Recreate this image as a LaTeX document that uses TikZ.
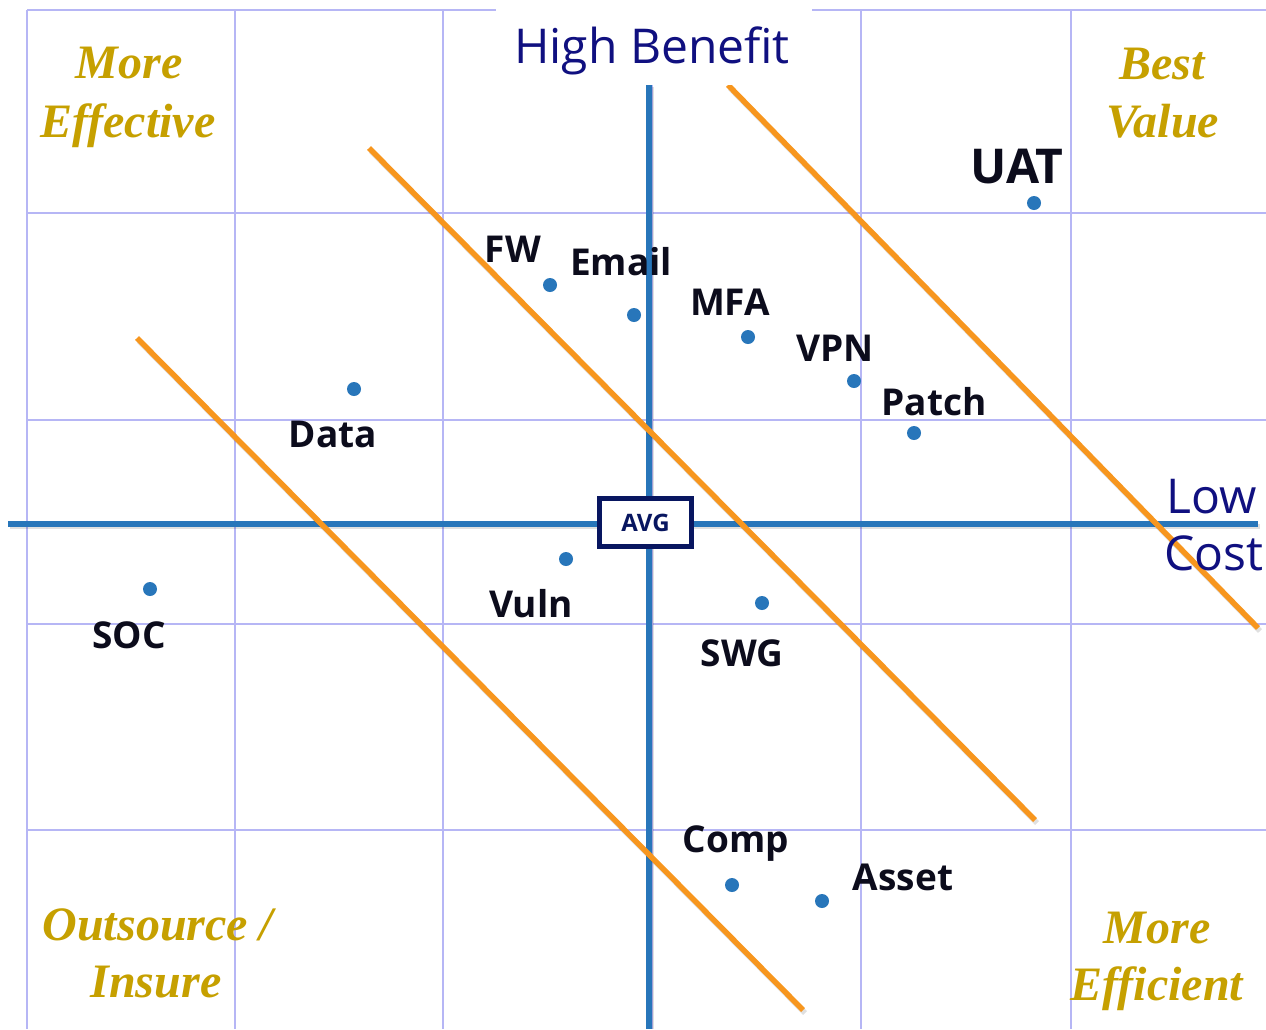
\documentclass[tikz,border=0pt]{standalone}
\usepackage{fontspec}
\setmainfont{Open Sans}
\newfontfamily\goldfont{Liberation Serif}
\definecolor{gridc}{RGB}{182,182,245}
\definecolor{axisblue}{RGB}{40,118,186}
\definecolor{bandorange}{RGB}{247,150,30}
\definecolor{navyc}{RGB}{16,16,128}
\definecolor{boxnavy}{RGB}{8,22,96}
\definecolor{goldc}{RGB}{198,160,0}
\definecolor{labelc}{RGB}{12,12,28}
\begin{document}
\begin{tikzpicture}[x=1pt,y=-1pt,
  gridline/.style={draw=gridc, line width=2pt},
  axisline/.style={draw=axisblue, line width=5.5pt},
  bandline/.style={draw=bandorange, line width=5.5pt},
  shadowline/.style={draw=black, opacity=0.12, line width=5.5pt},
  dot/.style={circle, fill=axisblue, inner sep=0pt, minimum size=14pt},
  lbl/.style={anchor=base, font=\bfseries\fontsize{37}{40}\selectfont, text=labelc, inner sep=0pt},
  corner/.style={anchor=base, font=\goldfont\bfseries\itshape\fontsize{48}{54}\selectfont, text=goldc, inner sep=0pt},
  axislbl/.style={anchor=base, font=\fontsize{48}{55}\selectfont, text=navyc, inner sep=0pt}]
\useasboundingbox (0,0) rectangle (1266,1029);
\fill[white] (0,0) rectangle (1266,1029);
% grid
\foreach \gx in {27,235,443,652,861,1071} \draw[gridline] (\gx,10) -- (\gx,1029);
\foreach \gy in {10,213,420,624,830} \draw[gridline] (27,\gy) -- (1266,\gy);
% axes
\draw[shadowline] (10,526.5) -- (1260,526.5);
\draw[axisline] (8,524) -- (1258,524);
\draw[shadowline] (651.5,87) -- (651.5,1029);
\draw[axisline] (649,85) -- (649,1029);
% orange bands
\draw[shadowline] (139,341) -- (805,1013);
\draw[bandline] (137,338) -- (803,1010);
\draw[shadowline] (371,151) -- (1037,823);
\draw[bandline] (369,148) -- (1035,820);
\draw[shadowline] (730,88) -- (1260,631);
\draw[bandline] (728,85) -- (1258,628);
% title backing
\fill[white] (496,0) rectangle (812,85);
\node[axislbl] (hb) at (652,63) {High Benefit};
\node[axislbl] (low) at (1212,513) {Low};
\node[axislbl] (cost) at (1214,570) {Cost};
% AVG box
\node[draw=boxnavy, line width=5.5pt, fill=white, minimum width=92pt, minimum height=48pt, inner sep=0pt,
      font=\bfseries\fontsize{24}{26}\selectfont, text=boxnavy] (avg) at (645.5,522.5) {AVG};
% corner texts
\node[corner] (me1) at (129,78) {More};
\node[corner] (me2) at (128,137) {Effective};
\node[corner] (bv1) at (1162,79) {Best};
\node[corner] (bv2) at (1163,137) {Value};
\node[corner] (oi1) at (158,940) {Outsource /};
\node[corner] (oi2) at (156,997) {Insure};
\node[corner] (mf1) at (1157,943) {More};
\node[corner] (mf2) at (1157,1000) {Efficient};
% dots
\node[dot] (dUAT) at (1034,203) {};
\node[dot] (dFW) at (550,285) {};
\node[dot] (dEmail) at (634,315) {};
\node[dot] (dMFA) at (748,337) {};
\node[dot] (dVPN) at (854,381) {};
\node[dot] (dPatch) at (914,433) {};
\node[dot] (dData) at (354,389) {};
\node[dot] (dVuln) at (566,559) {};
\node[dot] (dSOC) at (150,589) {};
\node[dot] (dSWG) at (762,603) {};
\node[dot] (dComp) at (732,885) {};
\node[dot] (dAsset) at (822,901) {};
% labels
\node[lbl, font=\bfseries\fontsize{48}{50}\selectfont] (tUAT) at (1017,183) {UAT};
\node[lbl] (tFW) at (513,262) {FW};
\node[lbl] (tEmail) at (621,275) {Email};
\node[lbl] (tMFA) at (730,315) {MFA};
\node[lbl] (tVPN) at (835,361) {VPN};
\node[lbl] (tPatch) at (934,415) {Patch};
\node[lbl] (tData) at (333,447) {Data};
\node[lbl] (tVuln) at (531,617) {Vuln};
\node[lbl] (tSOC) at (129,648) {SOC};
\node[lbl] (tSWG) at (742,666) {SWG};
\node[lbl] (tComp) at (736,852) {Comp};
\node[lbl] (tAsset) at (903,890) {Asset};
\end{tikzpicture}
\end{document}
